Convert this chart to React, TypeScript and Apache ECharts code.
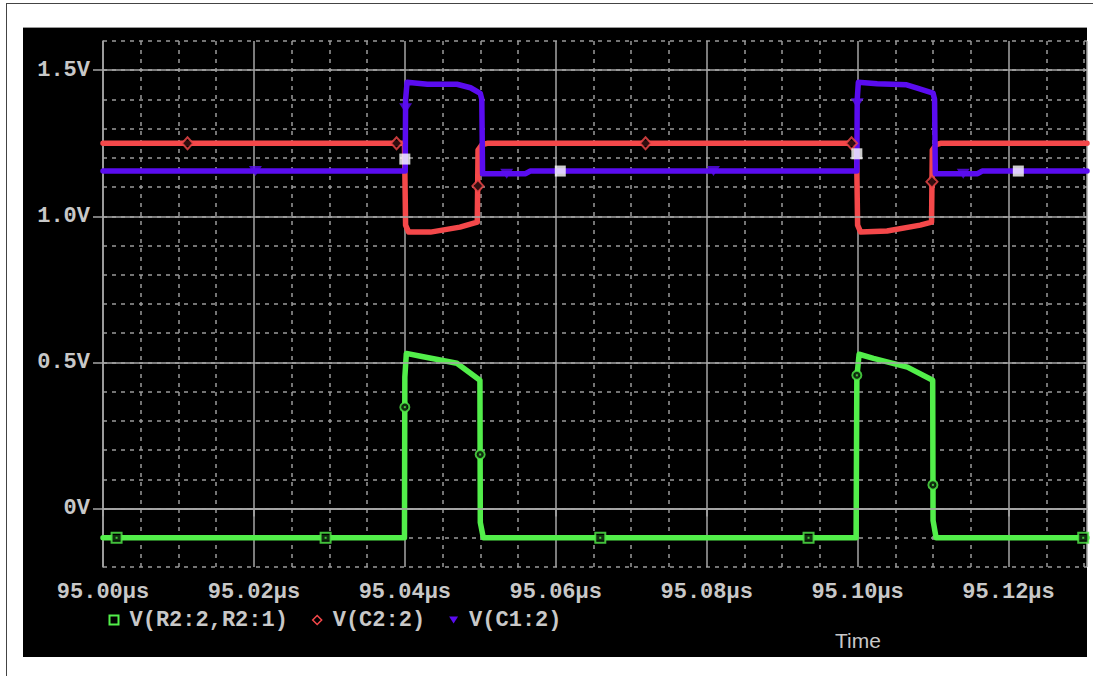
import React, { useEffect, useRef } from "react";
import * as echarts from "echarts";

// ---- axes ----
const X_MIN = 95.0;
const X_MAX = 95.1304;
const X_MAJOR = 0.02;
const Y_MIN = -0.2;
const Y_MAX = 1.6;
const Y_MINOR = 0.1;
const yMajorValues = [0, 0.5, 1.0, 1.5];

// ---- series names ----
const greenName = "V(R2:2,R2:1)";
const redName = "V(C2:2)";
const blueName = "V(C1:2)";

// ---- V(R2:2,R2:1) ----
const greenTime = [95.0, 95.03995, 95.04, 95.0402, 95.0421, 95.0469, 95.04995, 95.05, 95.0504, 95.0998, 95.0999, 95.1002, 95.1021, 95.1066, 95.10995, 95.11, 95.1104, 95.1304];
const greenValue = [-0.1, -0.1, 0.45, 0.531, 0.521, 0.497, 0.439, -0.048, -0.1, -0.1, 0.45, 0.528, 0.514, 0.484, 0.439, -0.041, -0.1, -0.1];

// ---- V(C2:2) ----
const redTime = [95.0, 95.03995, 95.0401, 95.0405, 95.0434, 95.0473, 95.0496, 95.0497, 95.0502, 95.0509, 95.09985, 95.1, 95.1004, 95.1039, 95.1083, 95.1098, 95.1099, 95.1104, 95.111, 95.1304];
const redValue = [1.25, 1.25, 0.97, 0.946, 0.946, 0.963, 0.98, 1.227, 1.245, 1.25, 1.25, 0.97, 0.946, 0.95, 0.97, 0.98, 1.227, 1.245, 1.25, 1.25];

// ---- V(C1:2) ----
const blueTime = [95.0, 95.04005, 95.0401, 95.0403, 95.043, 95.0469, 95.0487, 95.05, 95.0502, 95.0503, 95.056, 95.0566, 95.0999, 95.09995, 95.1001, 95.1026, 95.1065, 95.1079, 95.11, 95.1102, 95.1103, 95.1159, 95.1165, 95.1304];
const blueValue = [1.155, 1.155, 1.4, 1.459, 1.452, 1.452, 1.44, 1.421, 1.4, 1.146, 1.146, 1.155, 1.155, 1.4, 1.459, 1.454, 1.45, 1.439, 1.422, 1.4, 1.146, 1.146, 1.155, 1.155];

// ---- trace markers [time, value] ----
const greenSquareMarks = [[95.0018, -0.1], [95.0295, -0.1], [95.0659, -0.1], [95.0935, -0.1], [95.1299, -0.1]];
const greenRoundMarks = [[95.04, 0.347], [95.04998, 0.185], [95.0999, 0.456], [95.10998, 0.081]];
const redDiamondMarks = [[95.0112, 1.25], [95.0389, 1.25], [95.04968, 1.104], [95.0719, 1.25], [95.0992, 1.25], [95.10985, 1.118]];
const blueTriangleMarks = [[95.0202, 1.155], [95.0401, 1.37], [95.0535, 1.146], [95.0809, 1.155], [95.09995, 1.387], [95.114, 1.146]];
const whiteSquareMarks = [[95.04, 1.196], [95.0606, 1.155], [95.0999, 1.214], [95.1213, 1.155]];

const GREEN = "#52ee4a";
const RED = "#f4484a";
const BLUE = "#5a0cf0";
const SOLID = "#a6a6a6";
const DOTTED = "#9a9a9a";
const TEXT = "#c8c8c8";
const MONO = "'Liberation Mono', 'DejaVu Sans Mono', monospace";
const LINE_W = 5.5;

const pairs = (t: number[], v: number[]) => t.map((x, i) => [x, v[i]]);

export default function App() {
  const ref = useRef<HTMLDivElement>(null);

  useEffect(() => {
    if (!ref.current) return;
    const chart = echarts.init(ref.current, undefined, { renderer: "svg" });
    const lineCommon = {
      type: "line",
      showSymbol: false,
      symbol: "none",
      z: 2,
      xAxisIndex: 0,
      yAxisIndex: 0,
    };
    const markCommon = {
      type: "scatter",
      z: 3,
      xAxisIndex: 0,
      yAxisIndex: 0,
      silent: true,
    };
    chart.setOption({
      animation: false,
      backgroundColor: "transparent",
      title: {
        text: "Time",
        left: 835,
        top: 630,
        padding: 0,
        textStyle: { color: TEXT, fontFamily: "'Liberation Sans', Arial, sans-serif", fontSize: 21, fontWeight: "normal" },
      },
      legend: {
        left: 108.5,
        top: 609,
        padding: 0,
        itemWidth: 9,
        itemHeight: 9,
        itemGap: 24,
        selectedMode: false,
        textStyle: { color: TEXT, fontFamily: MONO, fontWeight: "bold", fontSize: 22, padding: [0, 0, 0, 6] },
        data: [
          { name: greenName, icon: "rect", itemStyle: { color: "#000", borderColor: GREEN, borderWidth: 2 } },
          { name: redName, icon: "diamond", itemStyle: { color: "#000", borderColor: RED, borderWidth: 1.5 } },
          { name: blueName, icon: "path://M0,0L10,0L5,8Z", itemStyle: { color: BLUE } },
        ],
      },
      grid: { left: 103, top: 41, right: 6, bottom: 109, outerBoundsMode: "none", containLabel: false },
      xAxis: [
        {
          type: "value",
          min: X_MIN,
          max: X_MAX,
          interval: X_MAJOR,
          position: "bottom",
          axisLine: { show: true, lineStyle: { color: SOLID, width: 1.5 } },
          axisTick: { show: true, length: 8, lineStyle: { color: SOLID, width: 1.5 } },
          axisLabel: {
            show: true,
            margin: 14,
            showMaxLabel: false,
            color: TEXT,
            fontFamily: MONO,
            fontWeight: "bold",
            fontSize: 22,
            formatter: (v: number) => v.toFixed(2) + "µs",
          },
          splitLine: { show: true, lineStyle: { color: SOLID, width: 1.5, type: "solid" } },
          minorTick: { show: false, splitNumber: 4 },
          minorSplitLine: { show: true, lineStyle: { color: DOTTED, width: 1.5, type: [4, 5] } },
        },
        {
          type: "value",
          min: X_MIN,
          max: X_MAX,
          interval: X_MAJOR,
          position: "top",
          axisLine: { show: true, lineStyle: { color: SOLID, width: 1.5 } },
          axisTick: { show: false },
          axisLabel: { show: false },
          splitLine: { show: false },
        },
      ],
      yAxis: [
        {
          type: "value",
          min: Y_MIN,
          max: Y_MAX,
          interval: Y_MINOR,
          position: "left",
          axisLine: { show: false },
          axisTick: { show: false },
          axisLabel: { show: false },
          splitLine: { show: true, lineStyle: { color: DOTTED, width: 1.5, type: [4, 5] } },
        },
        {
          type: "value",
          min: Y_MIN,
          max: Y_MAX,
          position: "left",
          axisLine: { show: true, lineStyle: { color: SOLID, width: 1.5 } },
          axisTick: { show: true, length: 10, customValues: yMajorValues, lineStyle: { color: SOLID, width: 1.5 } },
          axisLabel: {
            show: true,
            customValues: yMajorValues,
            margin: 13,
            color: TEXT,
            fontFamily: MONO,
            fontWeight: "bold",
            fontSize: 22,
            formatter: (v: number) => (Math.abs(v) < 1e-9 ? "0V" : v.toFixed(1) + "V"),
          },
          splitLine: { show: false },
        },
      ],
      series: [
        {
          type: "line",
          name: "majorGrid",
          data: [],
          z: 1,
          silent: true,
          markLine: {
            silent: true,
            symbol: ["none", "none"],
            label: { show: false },
            lineStyle: { color: SOLID, width: 1.5, type: "solid" },
            data: yMajorValues.map((v) => ({ yAxis: v })),
          },
        },
        { ...lineCommon, name: greenName, data: pairs(greenTime, greenValue), lineStyle: { color: GREEN, width: LINE_W, cap: "round", join: "round" }, itemStyle: { color: GREEN } },
        { ...lineCommon, name: redName, data: pairs(redTime, redValue), lineStyle: { color: RED, width: LINE_W, cap: "round", join: "round" }, itemStyle: { color: RED } },
        { ...lineCommon, name: blueName, data: pairs(blueTime, blueValue), lineStyle: { color: BLUE, width: LINE_W, cap: "round", join: "round" }, itemStyle: { color: BLUE } },
        { ...markCommon, data: greenSquareMarks, symbol: "rect", symbolSize: 10, itemStyle: { color: "#000", borderColor: GREEN, borderWidth: 2 } },
        { ...markCommon, data: greenRoundMarks, symbol: "circle", symbolSize: 9, itemStyle: { color: "#000", borderColor: GREEN, borderWidth: 2 } },
        { ...markCommon, data: [...greenSquareMarks, ...greenRoundMarks], symbol: "rect", symbolSize: 2, itemStyle: { color: GREEN } },
        { ...markCommon, data: redDiamondMarks, symbol: "diamond", symbolSize: [11, 12], itemStyle: { color: "#000", borderColor: RED, borderWidth: 2 } },
        { ...markCommon, data: blueTriangleMarks, symbol: "path://M0,0L10,0L5,8Z", symbolSize: [13, 10], itemStyle: { color: BLUE } },
        { ...markCommon, data: whiteSquareMarks, symbol: "rect", symbolSize: 11, itemStyle: { color: "#ffffff" } },
      ],
    });
    return () => chart.dispose();
  }, []);

  return (
    <div style={{ position: "absolute", left: 0, top: 0, width: 1093, height: 676, background: "#fff", overflow: "hidden" }}>
      <div style={{ position: "absolute", left: 6, top: 3, width: 1087, height: 1, background: "#444" }} />
      <div style={{ position: "absolute", left: 6, top: 3, width: 1, height: 673, background: "#444" }} />
      <div style={{ position: "absolute", left: 23, top: 28, width: 1064, height: 629, background: "#000", boxShadow: "0 -1px 0 #999" }} />
      <div ref={ref} style={{ position: "absolute", left: 0, top: 0, width: 1093, height: 676 }} />
    </div>
  );
}
